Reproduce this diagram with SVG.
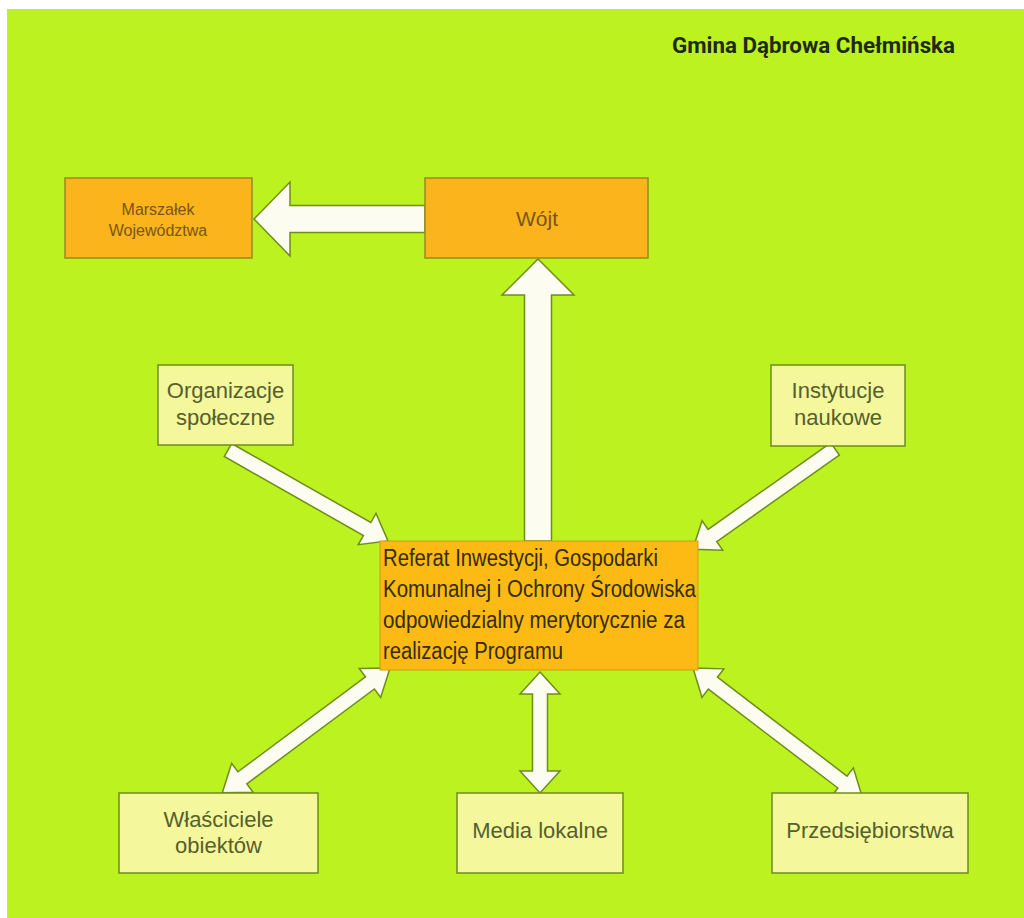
<svg xmlns="http://www.w3.org/2000/svg" width="1024" height="918" viewBox="0 0 1024 918">
<style>
.box-y{fill:#f4f79c;stroke:#6f8c1c;stroke-width:1.5}
.box-o{fill:#fbb41c;stroke:#9a8a1c;stroke-width:1.5}
.t{font-family:"Liberation Sans",Arial,sans-serif;text-anchor:middle}
.ty{font-size:22px;fill:#56602c}
.to{fill:#7a5418}
.tc{font-family:"Liberation Sans",Arial,sans-serif;font-size:23px;fill:#352c00}
.arr{fill:#fcfdf0;stroke:#6f8c1c;stroke-width:1.5;stroke-linejoin:miter}
</style>
<rect x="0" y="0" width="1024" height="918" fill="#ffffff"/>
<rect x="7" y="9" width="1017" height="909" fill="#bcf220"/>
<text x="672" y="53" textLength="283" lengthAdjust="spacingAndGlyphs" style="font-family:Roboto,'Liberation Sans',sans-serif;font-weight:bold;font-size:22px;fill:#1e2a10">Gmina Dąbrowa Chełmińska</text>
<g id="connectors">
<polygon class="arr" transform="translate(425,219) rotate(180)" points="0,-13.5 135,-13.5 135,-37 171,0 135,37 135,13.5 0,13.5"/>
<polygon class="arr" transform="translate(538,541) rotate(-90)" points="0,-13.5 246,-13.5 246,-36 282,0 246,36 246,13.5 0,13.5"/>
<polygon class="arr" transform="translate(228,450) rotate(29.6)" points="0,-7.5 160,-7.5 160,-18 184,0 160,18 160,7.5 0,7.5"/>
<polygon class="arr" transform="translate(835,449) rotate(144.8)" points="0,-7.5 150,-7.5 150,-18 174,0 150,18 150,7.5 0,7.5"/>
<polygon class="arr" transform="translate(390,668) rotate(143.35)" points="0,0 25,-18 25,-7.5 184,-7.5 184,-18 209,0 184,18 184,7.5 25,7.5 25,18"/>
<polygon class="arr" transform="translate(540,672) rotate(90)" points="0,0 22,-20 22,-7.5 99,-7.5 99,-20 121,0 99,20 99,7.5 22,7.5 22,20"/>
<polygon class="arr" transform="translate(693,668) rotate(37.35)" points="0,0 25,-18 25,-7.5 188,-7.5 188,-18 213,0 188,18 188,7.5 25,7.5 25,18"/>
</g>
<g id="marszalek">
<rect class="box-o" x="65" y="178" width="187" height="80"/>
<text class="t to" x="158" y="215" font-size="16">Marszałek</text>
<text class="t to" x="158" y="236" font-size="16">Województwa</text>
</g>
<g id="wojt">
<rect class="box-o" x="425" y="178" width="223" height="80"/>
<text class="t to" x="537" y="226" font-size="21">Wójt</text>
</g>
<g id="organizacje">
<rect class="box-y" x="158" y="365" width="135" height="80"/>
<text class="t ty" x="225.5" y="398">Organizacje</text>
<text class="t ty" x="225.5" y="425">społeczne</text>
</g>
<g id="instytucje">
<rect class="box-y" x="771" y="365" width="134" height="81"/>
<text class="t ty" x="838" y="398">Instytucje</text>
<text class="t ty" x="838" y="425">naukowe</text>
</g>
<g id="referat">
<rect x="380" y="541" width="318" height="129" fill="#fdba14" stroke="#c9a010" stroke-width="1"/>
<text class="tc" x="383" y="566" textLength="275" lengthAdjust="spacingAndGlyphs">Referat Inwestycji, Gospodarki</text>
<text class="tc" x="383" y="597" textLength="313" lengthAdjust="spacingAndGlyphs">Komunalnej i Ochrony Środowiska</text>
<text class="tc" x="383" y="628" textLength="302" lengthAdjust="spacingAndGlyphs">odpowiedzialny merytorycznie za</text>
<text class="tc" x="383" y="659" textLength="180" lengthAdjust="spacingAndGlyphs">realizację Programu</text>
</g>
<g id="wlasciciele">
<rect class="box-y" x="119" y="793" width="199" height="80"/>
<text class="t ty" x="218.5" y="827">Właściciele</text>
<text class="t ty" x="218.5" y="853">obiektów</text>
</g>
<g id="media">
<rect class="box-y" x="457" y="793" width="166" height="80"/>
<text class="t ty" x="540" y="838">Media lokalne</text>
</g>
<g id="przedsiebiorstwa">
<rect class="box-y" x="772" y="793" width="196" height="80"/>
<text class="t ty" x="870" y="838">Przedsiębiorstwa</text>
</g>
</svg>
